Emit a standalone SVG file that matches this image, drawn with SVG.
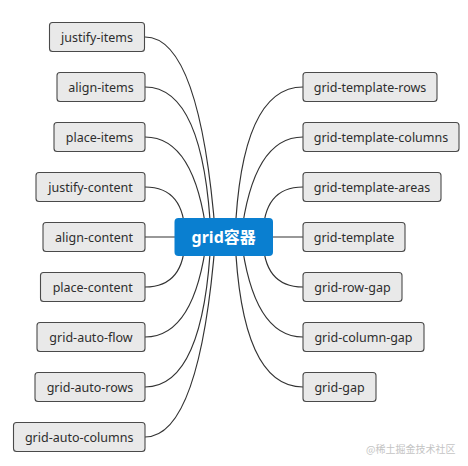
<svg xmlns="http://www.w3.org/2000/svg" width="468" height="466" viewBox="0 0 468 466">
<style>
.box{fill:#e9e9e9;stroke:#4a4a4a;stroke-width:1.1}
.t{font-family:"Noto Sans","Open Sans","DejaVu Sans",sans-serif;font-size:12.5px;fill:#2e2e2e;text-anchor:middle;dominant-baseline:central}
.c{fill:none;stroke:#333;stroke-width:1.2}
.root{fill:#0a7fd0}
.rt{font-family:"Noto Sans","Noto Sans CJK SC",sans-serif;font-size:16px;font-weight:bold;fill:#fff;text-anchor:middle;dominant-baseline:central}
.wm{font-family:"Noto Sans CJK SC","Noto Sans",sans-serif;font-size:10px;fill:#c4c4c4}
</style>
<rect width="468" height="466" fill="#fff"/>
<g id="connectors">
<path class="c" d="M145,37 Q200,37 215.6,237"/>
<path class="c" d="M145,87 Q204,87 211,237"/>
<path class="c" d="M145,137 Q195,137 207,237"/>
<path class="c" d="M145,187 Q185,187 185,237"/>
<path class="c" d="M145,237 H180"/>
<path class="c" d="M145,287 Q185,287 185,237"/>
<path class="c" d="M145,337 Q195,337 207,237"/>
<path class="c" d="M145,387 Q204,387 211,237"/>
<path class="c" d="M145,437 Q200,437 215.6,237"/>
<path class="c" d="M303,87 Q241,87 235,237"/>
<path class="c" d="M303,137 Q253,137 241,237"/>
<path class="c" d="M303,187 Q263,187 263,237"/>
<path class="c" d="M303,237 H268"/>
<path class="c" d="M303,287 Q263,287 263,237"/>
<path class="c" d="M303,337 Q253,337 241,237"/>
<path class="c" d="M303,387 Q241,387 235,237"/>
</g>
<g id="root"><rect class="root" x="174.5" y="218" width="98.5" height="38" rx="4"/><text class="rt" x="223.7" y="237">grid容器</text></g>
<g id="n-justify-items"><rect class="box" x="49.5" y="22.5" width="95" height="29" rx="3"/><text class="t" x="97" y="37">justify-items</text></g>
<g id="n-align-items"><rect class="box" x="57" y="72.5" width="88" height="29" rx="3"/><text class="t" x="101" y="87">align-items</text></g>
<g id="n-place-items"><rect class="box" x="54" y="122.5" width="91" height="29" rx="3"/><text class="t" x="99.5" y="137">place-items</text></g>
<g id="n-justify-content"><rect class="box" x="36" y="172.5" width="109" height="29" rx="3"/><text class="t" x="90.5" y="187">justify-content</text></g>
<g id="n-align-content"><rect class="box" x="43" y="222.5" width="102" height="29" rx="3"/><text class="t" x="94" y="237">align-content</text></g>
<g id="n-place-content"><rect class="box" x="40.5" y="272.5" width="104.5" height="29" rx="3"/><text class="t" x="92.7" y="287">place-content</text></g>
<g id="n-grid-auto-flow"><rect class="box" x="37" y="322.5" width="108" height="29" rx="3"/><text class="t" x="91" y="337">grid-auto-flow</text></g>
<g id="n-grid-auto-rows"><rect class="box" x="35" y="372.5" width="110" height="29" rx="3"/><text class="t" x="90" y="387">grid-auto-rows</text></g>
<g id="n-grid-auto-columns"><rect class="box" x="13.5" y="422.5" width="131.5" height="29" rx="3"/><text class="t" x="79.2" y="437">grid-auto-columns</text></g>
<g id="n-grid-template-rows"><rect class="box" x="303" y="72.5" width="134" height="29" rx="3"/><text class="t" x="370" y="87">grid-template-rows</text></g>
<g id="n-grid-template-columns"><rect class="box" x="303" y="122.5" width="156" height="29" rx="3"/><text class="t" x="381" y="137">grid-template-columns</text></g>
<g id="n-grid-template-areas"><rect class="box" x="303" y="172.5" width="138" height="29" rx="3"/><text class="t" x="372" y="187">grid-template-areas</text></g>
<g id="n-grid-template"><rect class="box" x="303" y="222.5" width="102" height="29" rx="3"/><text class="t" x="354" y="237">grid-template</text></g>
<g id="n-grid-row-gap"><rect class="box" x="303" y="272.5" width="99" height="29" rx="3"/><text class="t" x="352.5" y="287">grid-row-gap</text></g>
<g id="n-grid-column-gap"><rect class="box" x="303" y="322.5" width="121" height="29" rx="3"/><text class="t" x="363.5" y="337">grid-column-gap</text></g>
<g id="n-grid-gap"><rect class="box" x="303" y="372.5" width="73" height="29" rx="3"/><text class="t" x="339.5" y="387">grid-gap</text></g>
<text class="wm" x="366" y="453">@稀土掘金技术社区</text>
</svg>
